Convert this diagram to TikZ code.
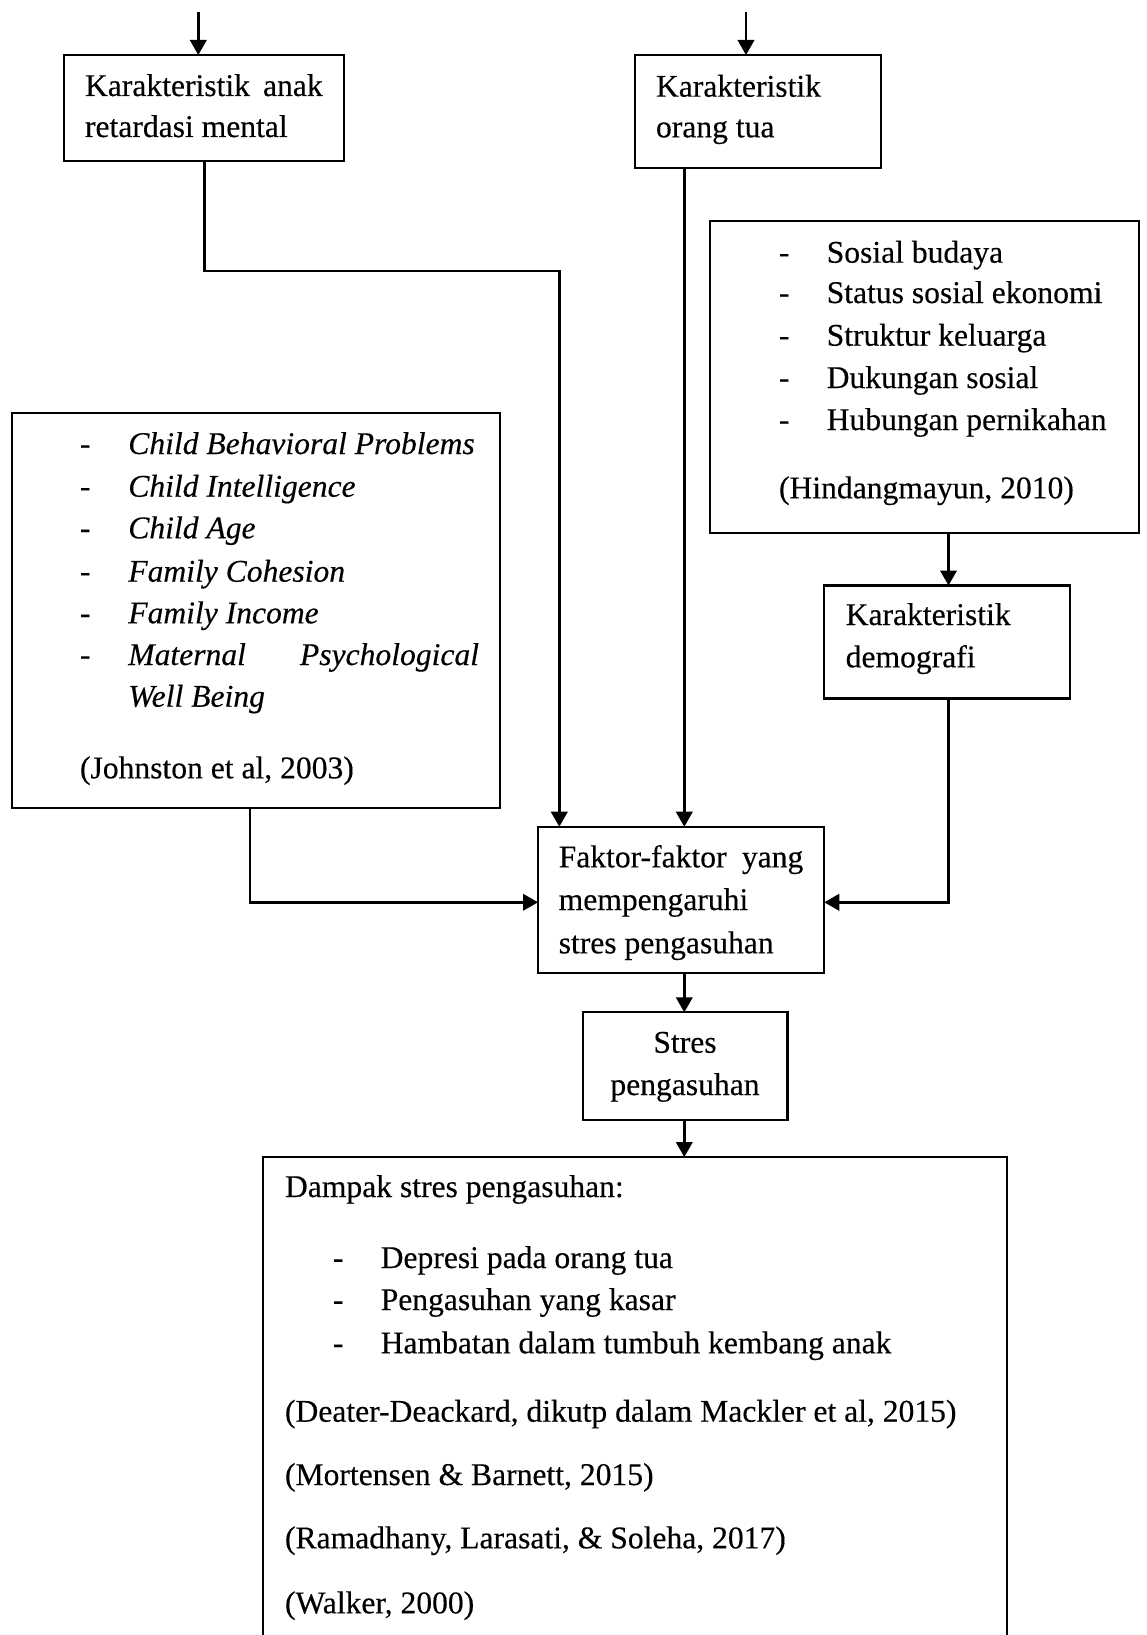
\documentclass[tikz,border=0pt]{standalone}
\usepackage{fontspec}
\setmainfont{Liberation Serif}[FakeBold=0.3]
\usetikzlibrary{arrows.meta}
\newcommand\mkbox[5]{\node[boxst, minimum width={(#4-#2)*1pt}, minimum height={(#5-#3)*1pt}] (#1) at (#2,#3) {};}
\begin{document}
\begin{tikzpicture}[x=1pt,y=-1pt,
  boxst/.style={draw, line width=2.2pt, inner sep=0pt, outer sep=0pt, anchor=north west},
  txt/.style={inner sep=0pt, outer sep=0pt, anchor=base west, font=\fontsize{31.6pt}{42pt}\selectfont},
  ctxt/.style={txt, anchor=base},
  itx/.style={txt, font=\fontsize{31.6pt}{42pt}\selectfont\itshape},
  conn/.style={line width=2.4pt},
  arr/.style={conn, -{Triangle[length=15pt,width=16.5pt]}}]
\useasboundingbox (0,0) rectangle (1146,1635);
\clip (0,0) rectangle (1146,1635);

% boxes
\mkbox{b1}{64}{55}{344}{161}
\mkbox{b2}{635}{55}{881}{168}
\mkbox{b3}{710}{221}{1139}{533}
\mkbox{b4}{824}{585.5}{1070}{698.5}
\mkbox{b5}{11.7}{413.3}{500}{808.3}
\mkbox{b6}{538}{826.7}{824.3}{973.3}
\mkbox{b7}{583.3}{1012.3}{787.5}{1120}
\mkbox{b8}{263.3}{1157}{1006.7}{1700}

% connectors
\coordinate (s1) at (198.3,11.7);
\coordinate (s2) at (746,11.7);
\coordinate (x1) at (204.3,0);
\coordinate (x1b) at (559.3,271);
\coordinate (x2) at (684.3,0);
\coordinate (x3) at (948.5,0);
\coordinate (j4) at (948.5,902.3);
\coordinate (j5) at (250,902.3);
\draw[arr] (s1) -- (s1 |- b1.north);
\draw[arr] (s2) -- (s2 |- b2.north);
\draw[arr] (b1.south -| x1) |- (x1b) -- (x1b |- b6.north);
\draw[arr] (b2.south -| x2) -- (b6.north -| x2);
\draw[arr] (b3.south -| x3) -- (b4.north -| x3);
\draw[arr] (b4.south -| x3) -- (j4) -- (j4 -| b6.east);
\draw[arr] (b5.south -| j5) -- (j5) -- (j5 -| b6.west);
\draw[arr] (b6.south -| x2) -- (b7.north -| x2);
\draw[arr] (b7.south -| x2) -- (b8.north -| x2);

% box 1
\node[txt] (t1a) at (85,96) {\hbox to 237.7pt{Karakteristik\hfill anak}};
\node[txt] (t1b) at (85,137) {retardasi mental};
% box 2
\node[txt] (t2a) at (656,96.7) {Karakteristik};
\node[txt] (t2b) at (656,137.3) {orang tua};
% box 3
\node[txt] (d3a) at (779,262.7) {-};
\node[txt] (t3a) at (826.7,262.7) {Sosial budaya};
\node[txt] (d3b) at (779,303) {-};
\node[txt] (t3b) at (826.7,303) {Status sosial ekonomi};
\node[txt] (d3c) at (779,345.7) {-};
\node[txt] (t3c) at (826.7,345.7) {Struktur keluarga};
\node[txt] (d3d) at (779,388) {-};
\node[txt] (t3d) at (826.7,388) {Dukungan sosial};
\node[txt] (d3e) at (779,430) {-};
\node[txt] (t3e) at (826.7,430) {Hubungan pernikahan};
\node[txt] (t3f) at (779,498.3) {(Hindangmayun, 2010)};
% box 4
\node[txt] (t4a) at (845.7,625) {Karakteristik};
\node[txt] (t4b) at (845.7,667.3) {demografi};
% box 5
\node[txt] (d5a) at (80,454) {-};
\node[itx] (t5a) at (128.3,454) {Child Behavioral Problems};
\node[txt] (d5b) at (80,496.7) {-};
\node[itx] (t5b) at (128.3,496.7) {Child Intelligence};
\node[txt] (d5c) at (80,538.3) {-};
\node[itx] (t5c) at (128.3,538.3) {Child Age};
\node[txt] (d5d) at (80,581.7) {-};
\node[itx] (t5d) at (128.3,581.7) {Family Cohesion};
\node[txt] (d5e) at (80,623.3) {-};
\node[itx] (t5e) at (128.3,623.3) {Family Income};
\node[txt] (d5f) at (80,665) {-};
\node[itx] (t5f) at (128.3,665) {\hbox to 350.7pt{Maternal\hfill Psychological}};
\node[itx] (t5g) at (128.3,706.7) {Well Being};
\node[txt] (t5h) at (80,778.3) {(Johnston et al, 2003)};
% box 6
\node[txt] (t6a) at (558.7,867.3) {\hbox to 244.6pt{Faktor-faktor\hfill yang}};
\node[txt] (t6b) at (558.7,910) {mempengaruhi};
\node[txt] (t6c) at (558.7,953.3) {stres pengasuhan};
% box 7
\node[ctxt] (t7a) at (685,1052.7) {Stres};
\node[ctxt] (t7b) at (685,1095) {pengasuhan};
% box 8
\node[txt] (t8a) at (285,1197) {Dampak stres pengasuhan:};
\node[txt] (d8a) at (333,1268) {-};
\node[txt] (t8b) at (380.7,1268) {Depresi pada orang tua};
\node[txt] (d8b) at (333,1310) {-};
\node[txt] (t8c) at (380.7,1310) {Pengasuhan yang kasar};
\node[txt] (d8c) at (333,1353.3) {-};
\node[txt] (t8d) at (380.7,1353.3) {Hambatan dalam tumbuh kembang anak};
\node[txt] (t8e) at (285,1421.7) {(Deater-Deackard, dikutp dalam Mackler et al, 2015)};
\node[txt] (t8f) at (285,1485) {(Mortensen \& Barnett, 2015)};
\node[txt] (t8g) at (285,1548.3) {(Ramadhany, Larasati, \& Soleha, 2017)};
\node[txt] (t8h) at (285,1613.3) {(Walker, 2000)};
\end{tikzpicture}
\end{document}
